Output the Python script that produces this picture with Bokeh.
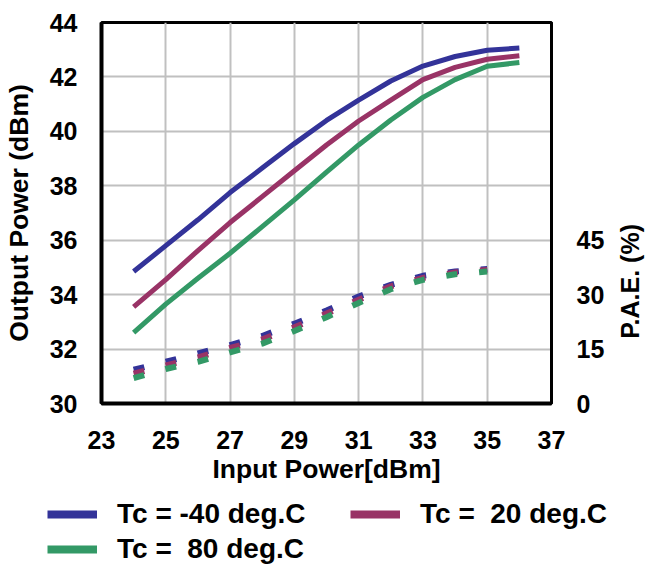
import math
from bokeh.plotting import figure
from bokeh.layouts import column, row
from bokeh.models import (Range1d, LinearAxis, FixedTicker, Legend, LegendItem, Label)
from bokeh.embed import file_html
from bokeh.resources import INLINE

# ---- data ----
pin = [24, 25, 26, 27, 28, 29, 30, 31, 32, 33, 34, 35, 36]
pout_m40 = [34.85, 35.8, 36.75, 37.75, 38.65, 39.55, 40.4, 41.15, 41.85, 42.4, 42.75, 42.98, 43.06]
pout_20 = [33.55, 34.55, 35.62, 36.65, 37.6, 38.55, 39.5, 40.38, 41.15, 41.9, 42.35, 42.65, 42.78]
pout_80 = [32.6, 33.65, 34.6, 35.52, 36.5, 37.48, 38.5, 39.5, 40.42, 41.25, 41.9, 42.39, 42.53]
pae_pin = [24, 25, 26, 27, 28, 29, 30, 31, 32, 33, 34, 35]
pae_m40 = [9.3, 11.5, 13.8, 16.1, 18.6, 22.0, 25.6, 29.5, 32.7, 35.2, 36.4, 37.1]
pae_20 = [8.2, 10.5, 12.7, 15.3, 17.7, 21.0, 24.8, 28.6, 32.3, 34.6, 36.1, 36.8]
pae_80 = [7.0, 9.5, 11.5, 14.1, 16.5, 20.0, 23.8, 27.7, 31.5, 34.1, 35.6, 36.4]
x_ticks = [23, 25, 27, 29, 31, 33, 35, 37]
y_ticks = [30, 32, 34, 36, 38, 40, 42, 44]
pae_ticks = [0, 15, 30, 45]
labels = ["Tc = -40 deg.C", "Tc =  20 deg.C", "Tc =  80 deg.C"]
colors = ["#333399", "#993366", "#339966"]

FONT = "Liberation Sans"

# ---------------- main chart ----------------
p = figure(width=610, height=490, output_backend="svg", toolbar_location=None,
           x_range=Range1d(23, 37), y_range=Range1d(30, 44),
           min_border_left=100, min_border_right=59, min_border_top=22,
           min_border_bottom=87)
p.extra_y_ranges = {"pae": Range1d(0, 105)}

p.outline_line_color = "black"
p.outline_line_width = 3
p.outline_line_alpha = 1.0

p.xgrid.ticker = FixedTicker(ticks=x_ticks)
p.ygrid.ticker = FixedTicker(ticks=y_ticks)
for g in (p.xgrid[0], p.ygrid[0]):
    g.grid_line_color = "#c0c0c0"
    g.grid_line_width = 2

def style_axis(ax):
    ax.major_tick_line_color = None
    ax.minor_tick_line_color = None
    ax.major_label_text_font = FONT
    ax.major_label_text_font_style = "bold"
    ax.major_label_text_font_size = "25px"
    ax.major_label_text_color = "black"
    ax.axis_label_text_font = FONT
    ax.axis_label_text_font_style = "bold"
    ax.axis_label_text_font_size = "26.5px"
    ax.axis_label_text_color = "black"
    ax.axis_line_color = "black"

xa = p.xaxis[0]
style_axis(xa)
xa.ticker = FixedTicker(ticks=x_ticks)
xa.axis_line_width = 4
xa.major_label_standoff = 21
xa.axis_label = "Input Power[dBm]"
xa.axis_label_standoff = 2

ya = p.yaxis[0]
style_axis(ya)
ya.ticker = FixedTicker(ticks=y_ticks)
ya.axis_line_width = 4
ya.major_label_standoff = 18
ya.axis_label = "Output Power (dBm)"
ya.axis_label_standoff = 13

ra = LinearAxis(y_range_name="pae", ticker=FixedTicker(ticks=pae_ticks))
style_axis(ra)
ra.axis_line_width = 3
ra.major_label_standoff = 19
p.add_layout(ra, "right")

outs = [pout_m40, pout_20, pout_80]
for ys, c in zip(outs, colors):
    p.line(pin, ys, line_color=c, line_width=5)

paes = [pae_m40, pae_20, pae_80]
for ys, c in zip(paes, colors):
    p.line(pae_pin, ys, line_color=c, line_width=6, line_dash="11 22", y_range_name="pae")

# ---------------- right-hand title strip ----------------
q = figure(width=38, height=490, output_backend="svg", toolbar_location=None,
           x_range=Range1d(0, 38), y_range=Range1d(0, 490),
           min_border=0, x_axis_type=None, y_axis_type=None)
q.outline_line_color = None
q.grid.visible = False
q.add_layout(Label(x=19, y=490 - 288 - 45, text="P.A.E. (%)", angle=math.pi / 2,
                   text_align="center", text_baseline="middle", text_font=FONT,
                   text_font_style="bold", text_font_size="25px", text_color="black"))

# ---------------- legend strip ----------------
lg = figure(width=648, height=76, output_backend="svg", toolbar_location=None,
            x_range=Range1d(0, 648), y_range=Range1d(0, 76),
            min_border=0, x_axis_type=None, y_axis_type=None)
lg.outline_line_color = None
lg.grid.visible = False
items = []
for lab, c in zip(labels, colors):
    r = lg.line([-100, -90], [-100, -100], line_color=c, line_width=8)
    items.append(LegendItem(label=lab, renderers=[r]))
leg = Legend(items=items, ncols=2, orientation="horizontal", location=(47, 1),
             label_text_font=FONT, label_text_font_style="bold",
             label_text_font_size="28px", label_text_color="black",
             glyph_width=50, glyph_height=28, label_standoff=20, spacing=3,
             label_height=28, label_width=230, padding=0, margin=0,
             border_line_color=None, background_fill_alpha=0)
lg.add_layout(leg)

layout = column(row(p, q, spacing=0), lg, spacing=0)
open("out.html", "w").write(file_html(layout, INLINE))
